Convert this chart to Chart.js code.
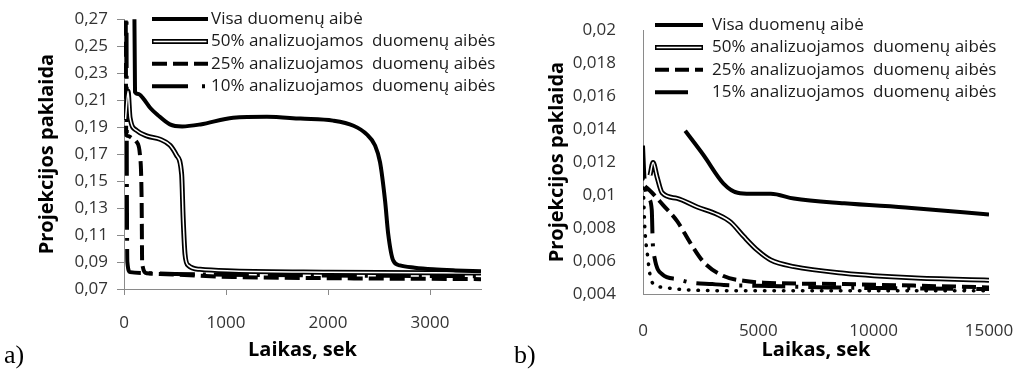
<!DOCTYPE html>
<html>
<head>
<meta charset="utf-8">
<script src="https://cdn.jsdelivr.net/npm/chart.js@4/dist/chart.umd.min.js"></script>
<style>
body { margin: 0; background: #fff; }
#page { position: relative; width: 1021px; height: 376px; overflow: hidden; }
canvas { position: absolute; top: 0; }
.tag { position: absolute; font-family: "Liberation Serif", serif; font-size: 26px; line-height: 26px; color: #000; }
</style>
</head>
<body>
<div id="page">
  <canvas id="chartA" width="510" height="376" style="left:0"></canvas>
  <canvas id="chartB" width="511" height="376" style="left:510px"></canvas>
  <div class="tag" style="left:4px;top:342px">a)</div>
  <div class="tag" style="left:514px;top:342px">b)</div>
</div>
<script>
var namesA = ["Visa duomenų aibė", "50% analizuojamos  duomenų aibės", "25% analizuojamos  duomenų aibės", "10% analizuojamos  duomenų aibės"];
var namesB = ["Visa duomenų aibė", "50% analizuojamos  duomenų aibės", "25% analizuojamos  duomenų aibės", "15% analizuojamos  duomenų aibės"];

var xTicksA = [0, 1000, 2000, 3000];
var yTicksA = [0.07, 0.09, 0.11, 0.13, 0.15, 0.17, 0.19, 0.21, 0.23, 0.25, 0.27];
var xTicksB = [0, 5000, 10000, 15000];
var yTicksB = [0.004, 0.006, 0.008, 0.01, 0.012, 0.014, 0.016, 0.018, 0.02];

// a) time (s) and projection error
var tFullA = [100, 108, 140, 186, 260, 330, 450, 570, 750, 1070, 1400, 1730, 2050, 2250, 2380, 2460, 2510, 2560, 2590, 2640, 2705, 2850, 3030, 3250, 3500];
var vFullA = [0.300, 0.216, 0.2145, 0.2115, 0.204, 0.199, 0.192, 0.1905, 0.192, 0.197, 0.1977, 0.1963, 0.1948, 0.191, 0.1846, 0.1766, 0.164, 0.135, 0.111, 0.091, 0.0875, 0.0858, 0.0846, 0.0838, 0.0832];
var tHalfA = [15, 40, 59, 124, 222, 353, 451, 516, 565, 580, 598, 630, 745, 1070, 2000, 3500];
var vHalfA = [0.196, 0.2165, 0.197, 0.1875, 0.1835, 0.181, 0.1765, 0.169, 0.155, 0.1225, 0.096, 0.0875, 0.0846, 0.0834, 0.0825, 0.0818];
var tQuarterA = [16, 22, 40, 75, 124, 157, 173, 178, 222, 418, 1070, 2050, 3500];
var vQuarterA = [0.300, 0.184, 0.1835, 0.182, 0.179, 0.169, 0.135, 0.089, 0.0817, 0.081, 0.0789, 0.078, 0.0773];
var tTenthA = [24, 28, 33, 60, 200, 500, 1000, 2000, 3500];
var vTenthA = [0.300, 0.150, 0.090, 0.0825, 0.0818, 0.0812, 0.0806, 0.080, 0.0795];

// b) time (s) and projection error
var tFullB = [1830, 2620, 3490, 4100, 4670, 5540, 6540, 8720, 11640, 15000];
var vFullB = [0.0139, 0.01243, 0.0107, 0.01014, 0.01008, 0.01008, 0.00979, 0.0095, 0.00922, 0.00882];
var tHalfB = [305, 436, 610, 830, 1480, 2350, 3230, 3800, 4360, 4970, 5540, 6540, 8720, 11640, 15000];
var vHalfB = [0.0112, 0.01197, 0.0111, 0.01014, 0.0098, 0.00928, 0.00882, 0.00836, 0.0075, 0.00664, 0.00606, 0.00566, 0.00526, 0.00498, 0.00484];
var tQuarterB = [87, 392, 872, 1480, 2050, 2620, 3490, 4360, 5230, 8720, 12000, 15000];
var vQuarterB = [0.01054, 0.01014, 0.00939, 0.00842, 0.0071, 0.00595, 0.00509, 0.0048, 0.00469, 0.0046, 0.0045, 0.0044];
var t15B = [0, 70, 250, 380, 420, 500, 830, 1480, 2050, 3000, 3500, 5000, 8000, 11000, 15000];
var v15B = [0.0130, 0.0109, 0.0098, 0.0091, 0.0072, 0.0062, 0.0052, 0.0049, 0.0047, 0.0046, 0.00455, 0.0045, 0.0044, 0.00435, 0.0043];
var tDotB = [0, 80, 200, 300, 450, 900, 1500, 2200, 4000, 8000, 15000];
var vDotB = [0.0110, 0.0080, 0.0063, 0.0052, 0.0046, 0.0044, 0.0043, 0.00423, 0.0042, 0.0042, 0.0042];

var FONT = "'Open Sans', 'DejaVu Sans', sans-serif";

function pts(t, v) {
    return t.map(function (x, i) { return { x: x, y: v[i] }; });
}

// draws the line samples + names in the top of the plot
var sampleLegend = {
    id: "sampleLegend",
    afterDatasetsDraw: function (chart, args, opts) {
        var ctx = chart.ctx;
        ctx.save();
        ctx.font = "17px " + FONT;
        ctx.textBaseline = "middle";
        ctx.fillStyle = "#1a1a1a";
        opts.items.forEach(function (it, i) {
            var y = opts.y + i * opts.step;
            var ds = chart.data.datasets[it.ds];
            ctx.lineCap = "butt";
            ctx.setLineDash(it.dash || ds.borderDash || []);
            ctx.lineWidth = ds.borderWidth;
            ctx.strokeStyle = ds.borderColor;
            ctx.beginPath();
            ctx.moveTo(opts.x, y);
            ctx.lineTo(opts.x + opts.w, y);
            ctx.stroke();
            if (it.inner != null) {
                var ins = chart.data.datasets[it.inner];
                ctx.lineWidth = ins.borderWidth;
                ctx.strokeStyle = ins.borderColor;
                ctx.beginPath();
                ctx.moveTo(opts.x + 1.5, y);
                ctx.lineTo(opts.x + opts.w - 1.5, y);
                ctx.stroke();
            }
            ctx.setLineDash([]);
            ctx.fillText(ds.label, opts.textX, y);
        });
        ctx.restore();
    }
};

function buildChart(id, c) {
    return new Chart(document.getElementById(id), {
        type: "line",
        data: { datasets: c.datasets },
        options: {
            responsive: false,
            animation: false,
            events: [],
            layout: { padding: c.padding },
            elements: {
                point: { radius: 0 },
                line: { cubicInterpolationMode: "monotone", borderJoinStyle: "round" }
            },
            plugins: {
                legend: { display: false },
                tooltip: { enabled: false },
                sampleLegend: c.legend
            },
            scales: {
                x: {
                    type: "linear",
                    min: 0,
                    max: c.xMax,
                    afterBuildTicks: function (s) { s.ticks = c.xTicks.map(function (v) { return { value: v }; }); },
                    afterFit: function (s) {
                        s.height = c.xHeight;
                        // label gap is big, keep it out of the side margins
                        s.paddingRight = 0;
                        s.paddingLeft = 0;
                    },
                    grid: { display: c.tickMarks, drawOnChartArea: false, tickLength: 6, color: "#8a8a8a" },
                    border: { display: true, color: "#8a8a8a", width: 1 },
                    ticks: {
                        padding: c.xPad, color: "#333", maxRotation: 0,
                        font: { family: FONT, size: 17 },
                        callback: function (v) { return String(v); }
                    },
                    title: {
                        display: true, text: "Laikas, sek", color: "#000",
                        font: { family: FONT, size: 20, weight: "bold" },
                        padding: { top: 6, bottom: 6 }
                    }
                },
                y: {
                    min: c.yMin,
                    max: c.yMax,
                    afterBuildTicks: function (s) { s.ticks = c.yTicks.map(function (v) { return { value: v }; }); },
                    afterFit: function (s) { s.width = c.yWidth; },
                    grid: { display: c.tickMarks, drawOnChartArea: false, tickLength: 7, color: "#8a8a8a" },
                    border: { display: true, color: "#8a8a8a", width: 1 },
                    ticks: {
                        padding: c.yPad, color: "#333",
                        font: { family: FONT, size: 17 },
                        callback: function (v) { return String(v).replace(".", ","); }
                    },
                    title: {
                        display: true, text: "Projekcijos paklaida", color: "#000",
                        font: { family: FONT, size: 20, weight: "bold" },
                        padding: { top: 6, bottom: 6 }
                    }
                }
            }
        },
        plugins: [sampleLegend]
    });
}

var chartA = buildChart("chartA", {
    datasets: [
        { label: namesA[0], data: pts(tFullA, vFullA), borderColor: "#000", borderWidth: 4 },
        { label: "", data: pts(tHalfA, vHalfA), borderColor: "#fff", borderWidth: 1.5 },
        { label: namesA[1], data: pts(tHalfA, vHalfA), borderColor: "#000", borderWidth: 5 },
        { label: namesA[2], data: pts(tQuarterA, vQuarterA), borderColor: "#000", borderWidth: 4, borderDash: [15, 6] },
        { label: namesA[3], data: pts(tTenthA, vTenthA), borderColor: "#000", borderWidth: 4, borderDash: [35, 8, 3, 8] }
    ],
    padding: { left: 29, right: 29, top: 15, bottom: 8 },
    xMax: 3500, xTicks: xTicksA, xHeight: 79, xPad: 18,
    yMin: 0.07, yMax: 0.27, yTicks: yTicksA, yWidth: 95, yPad: 9,
    tickMarks: true,
    legend: {
        x: 152, w: 56, textX: 211, y: 19, step: 22.4,
        items: [{ ds: 0 }, { ds: 2, inner: 1 }, { ds: 3 }, { ds: 4, dash: [36, 14, 3, 14] }]
    }
});

var chartB = buildChart("chartB", {
    datasets: [
        { label: namesB[0], data: pts(tFullB, vFullB), borderColor: "#000", borderWidth: 4 },
        { label: "", data: pts(tHalfB, vHalfB), borderColor: "#fff", borderWidth: 1.5 },
        { label: namesB[1], data: pts(tHalfB, vHalfB), borderColor: "#000", borderWidth: 5 },
        { label: namesB[2], data: pts(tQuarterB, vQuarterB), borderColor: "#000", borderWidth: 4, borderDash: [14, 6] },
        { label: namesB[3], data: pts(t15B, v15B), borderColor: "#000", borderWidth: 4, borderDash: [33, 10, 3, 10] },
        { label: "", data: pts(tDotB, vDotB), borderColor: "#000", borderWidth: 3.5, borderDash: [0.5, 9], borderCapStyle: "round" }
    ],
    padding: { left: 29, right: 32, top: 15, bottom: 8 },
    xMax: 15000, xTicks: xTicksB, xHeight: 74, xPad: 21,
    yMin: 0.004, yMax: 0.02, yTicks: yTicksB, yWidth: 104, yPad: 20,
    tickMarks: false,
    legend: {
        x: 145, w: 48, textX: 202, y: 25, step: 22.4,
        items: [{ ds: 0 }, { ds: 2, inner: 1 }, { ds: 3 }, { ds: 4, dash: [33, 100] }]
    }
});
</script>
</body>
</html>
